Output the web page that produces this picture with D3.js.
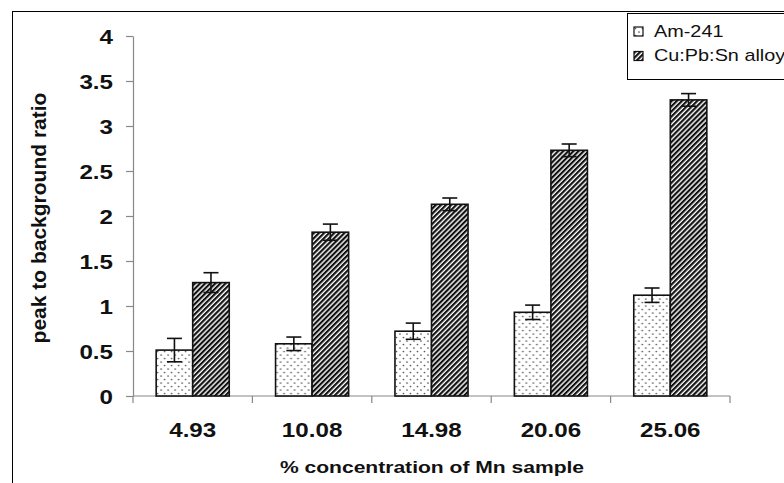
<!DOCTYPE html>
<html>
<head>
<meta charset="utf-8">
<script src="https://cdn.jsdelivr.net/npm/d3@7"></script>
<style>
  html, body { margin: 0; padding: 0; background: #fff; }
  svg { display: block; font-family: "Liberation Sans", Arial, sans-serif; }
</style>
</head>
<body>
<svg id="chart" width="784" height="483"></svg>
<script>
// Mn concentration (%) of each sample
const categories = ["4.93", "10.08", "14.98", "20.06", "25.06"];
const seriesNames = ["Am-241", "Cu:Pb:Sn alloy"];
// peak-to-background ratio per source
const am241 = [0.51, 0.58, 0.72, 0.93, 1.12];
const cuPbSn = [1.26, 1.82, 2.13, 2.73, 3.29];
// error bar half-widths
const am241Err = [0.13, 0.075, 0.09, 0.08, 0.08];
const cuPbSnErr = [0.11, 0.09, 0.07, 0.07, 0.07];
const yTicks = [0, 0.5, 1, 1.5, 2, 2.5, 3, 3.5, 4];

const SX = 1.24; // horizontal text stretch
const svg = d3.select("#chart");

// fill patterns
const defs = svg.append("defs");
const dots = defs.append("pattern").attr("id", "dots")
  .attr("patternUnits", "userSpaceOnUse").attr("width", 7).attr("height", 7);
dots.append("rect").attr("width", 7).attr("height", 7).attr("fill", "#fff");
[[1.5, 1.5], [5, 5]].forEach(([cx, cy]) =>
  dots.append("circle").attr("cx", cx).attr("cy", cy).attr("r", 0.85).attr("fill", "#555"));

const hatch = defs.append("pattern").attr("id", "hatch")
  .attr("patternUnits", "userSpaceOnUse").attr("width", 3.6).attr("height", 10)
  .attr("patternTransform", "rotate(45)");
hatch.append("rect").attr("width", 3.6).attr("height", 10).attr("fill", "#fff");
hatch.append("rect").attr("width", 2.2).attr("height", 10).attr("fill", "#111");

const fills = ["url(#dots)", "url(#hatch)"];

// chart frame
svg.append("rect").attr("x", 12.5).attr("y", 11.5).attr("width", 800).attr("height", 500)
  .attr("fill", "none").attr("stroke", "#000").attr("stroke-width", 1);

const x0 = d3.scaleBand().domain(categories).range([133, 730]).padding(0);
const groupW = x0.bandwidth() * 0.612;
const x1 = d3.scaleBand().domain(seriesNames).range([0, groupW]).padding(0);
const y = d3.scaleLinear().domain([0, 4]).range([396, 36]);

const axisColor = "#888";

// y axis
const yAxis = svg.append("g").attr("transform", "translate(133,0)")
  .call(d3.axisLeft(y).tickValues(yTicks).tickSize(7).tickSizeOuter(0).tickFormat(d => d3.format("~g")(d)));
yAxis.select(".domain").attr("stroke", axisColor).attr("stroke-width", 1.2);
yAxis.selectAll(".tick line").attr("stroke", axisColor).attr("stroke-width", 1.2);
yAxis.selectAll(".tick text")
  .attr("x", null).attr("dy", null)
  .attr("transform", "translate(-20,7) scale(" + SX + ",1)")
  .attr("font-size", 19.5).attr("font-weight", "bold").attr("fill", "#111")
  .attr("text-anchor", "end");

// x axis with ticks at category boundaries
const bounds = categories.map(c => x0(c)).concat([x0.range()[1]]);
const xAxisG = svg.append("g").attr("transform", "translate(0,396)");
xAxisG.append("line").attr("x1", 133).attr("x2", 730).attr("y1", 0).attr("y2", 0)
  .attr("stroke", axisColor).attr("stroke-width", 1.2);
xAxisG.selectAll("line.tk").data(bounds).join("line").attr("class", "tk")
  .attr("x1", d => d).attr("x2", d => d).attr("y1", 0).attr("y2", 7)
  .attr("stroke", axisColor).attr("stroke-width", 1.2);
xAxisG.selectAll("text").data(categories).join("text")
  .attr("transform", d => "translate(" + (x0(d) + x0.bandwidth() / 2) + ",41) scale(" + SX + ",1)")
  .attr("text-anchor", "middle").attr("font-size", 19.5).attr("font-weight", "bold").attr("fill", "#111")
  .text(d => d);

// bars
const data = categories.map((c, i) => ({
  cat: c,
  vals: [
    { s: seriesNames[0], v: am241[i], e: am241Err[i], k: 0 },
    { s: seriesNames[1], v: cuPbSn[i], e: cuPbSnErr[i], k: 1 }
  ]
}));
const groups = svg.append("g").selectAll("g").data(data).join("g")
  .attr("transform", d => "translate(" + (x0(d.cat) + (x0.bandwidth() - groupW) / 2) + ",0)");
groups.selectAll("rect").data(d => d.vals).join("rect")
  .attr("x", d => x1(d.s)).attr("width", x1.bandwidth())
  .attr("y", d => y(d.v)).attr("height", d => y(0) - y(d.v))
  .attr("fill", d => fills[d.k]).attr("stroke", "#111").attr("stroke-width", 1.6);

// error bars
const eb = groups.selectAll("g.err").data(d => d.vals).join("g").attr("class", "err")
  .attr("stroke", "#111").attr("stroke-width", 1.6);
eb.append("line")
  .attr("x1", d => x1(d.s) + x1.bandwidth() / 2).attr("x2", d => x1(d.s) + x1.bandwidth() / 2)
  .attr("y1", d => y(d.v + d.e)).attr("y2", d => y(d.v - d.e));
eb.append("line")
  .attr("x1", d => x1(d.s) + x1.bandwidth() / 2 - 7.5).attr("x2", d => x1(d.s) + x1.bandwidth() / 2 + 7.5)
  .attr("y1", d => y(d.v + d.e)).attr("y2", d => y(d.v + d.e));
eb.append("line")
  .attr("x1", d => x1(d.s) + x1.bandwidth() / 2 - 7.5).attr("x2", d => x1(d.s) + x1.bandwidth() / 2 + 7.5)
  .attr("y1", d => y(d.v - d.e)).attr("y2", d => y(d.v - d.e));

// axis titles
svg.append("text")
  .attr("transform", "translate(432,473) scale(" + SX + ",1)")
  .attr("text-anchor", "middle").attr("font-size", 17).attr("font-weight", "bold").attr("fill", "#111")
  .text("% concentration of Mn sample");
svg.append("text")
  .attr("transform", "translate(46,218) rotate(-90)")
  .attr("text-anchor", "middle").attr("font-size", 21).attr("font-weight", "bold").attr("fill", "#111")
  .text("peak to background ratio");

// legend
const legend = svg.append("g");
legend.append("rect").attr("x", 627.5).attr("y", 13.5).attr("width", 200).attr("height", 66)
  .attr("fill", "#fff").attr("stroke", "#000").attr("stroke-width", 1);
const li = legend.selectAll("g.li").data(seriesNames).join("g").attr("class", "li")
  .attr("transform", (d, i) => "translate(634," + (27 + i * 24.5) + ")");
li.append("rect").attr("width", 9).attr("height", 9)
  .attr("fill", (d, i) => fills[i]).attr("stroke", "#111").attr("stroke-width", 1.2);
li.append("text")
  .attr("transform", "translate(20,9.5) scale(" + SX + ",1)")
  .attr("font-size", 16).attr("fill", "#111")
  .text(d => d);
</script>
</body>
</html>
